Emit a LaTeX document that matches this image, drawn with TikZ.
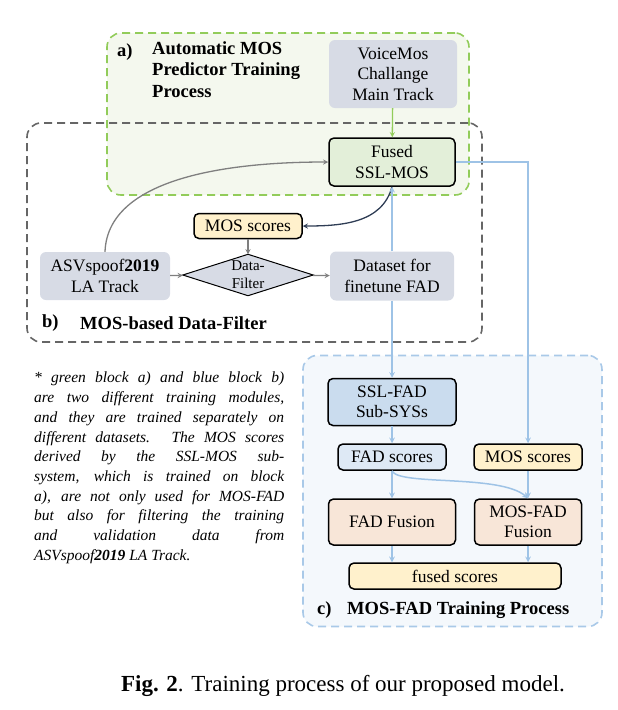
\documentclass[tikz,border=0pt]{standalone}
\usepackage{fontspec}
\setmainfont{Liberation Serif}
\usetikzlibrary{positioning}

\definecolor{regiongreen}{HTML}{92CC5A}
\definecolor{regiongreenfill}{HTML}{F4F8EE}
\definecolor{regionblue}{HTML}{A9C9E8}
\definecolor{regionbluefill}{HTML}{F4F8FC}
\definecolor{datagray}{HTML}{D7DBE5}
\definecolor{fusedgreen}{HTML}{E3EFD9}
\definecolor{scoreyellow}{HTML}{FFF1CC}
\definecolor{fadblue}{HTML}{CADCEE}
\definecolor{fadlight}{HTML}{DEE9F5}
\definecolor{fusionpeach}{HTML}{F8E6D8}
\definecolor{linkblue}{HTML}{9EC3E6}
\definecolor{linkgray}{HTML}{7F7F7F}
\definecolor{linknavy}{HTML}{2F3D55}

\begin{document}
\begin{tikzpicture}[
      x=1pt, y=-1pt,
      font=\fontsize{17.5}{20.5}\selectfont,
      region/.style={draw, dashed, dash pattern=on 8pt off 5pt, line width=1.6pt,
                     rounded corners=14pt},
      data/.style={fill=datagray, rounded corners=6pt, align=center, inner sep=0pt},
      box/.style={draw=black, line width=1.5pt, rounded corners=5pt, align=center,
                  inner sep=0pt},
      title/.style={font=\fontsize{18.5}{21.5}\selectfont\bfseries, align=left,
                    inner sep=0pt},
      flow/.style={draw=linkgray, ->, >=stealth, line width=1.3pt},
      blueflow/.style={draw=linkblue, ->, >=stealth, line width=1.5pt}
    ]
    \useasboundingbox (0,0) rectangle (618,710);

    % Regions a), b), c).
    \node[region, draw=regiongreen, fill=regiongreenfill, minimum width=362pt,
          minimum height=162pt] (blocka) at (288,114) {};
    \node[region, draw=black!60, minimum width=455pt, minimum height=219pt]
          (blockb) at (254.5,232.5) {};
    \node[region, draw=regionblue, fill=regionbluefill, minimum width=299pt,
          minimum height=271pt] (blockc) at (452.5,491) {};

    % a) Automatic MOS predictor training.
    \node[title, anchor=west] (taga) at (117,52) {a)};
    \node[title, anchor=north west] (titlea) at (152,41)
      {Automatic MOS\\Predictor Training\\Process};
    \node[data, minimum width=128pt, minimum height=68pt] (voicemos) at (393,74)
      {VoiceMos\\Challange\\Main Track};
    \node[box, fill=fusedgreen, minimum width=126pt, minimum height=48pt]
      (fused) at (392,162) {Fused\\SSL-MOS};
    \draw[draw=regiongreen, ->, >=stealth, line width=1.3pt] (voicemos) -- (fused);

    % b) MOS-based data filter.
    \node[box, fill=scoreyellow, minimum width=108pt, minimum height=25pt]
      (mosa) at (248,226) {MOS scores};
    \node[data, minimum width=130pt, minimum height=48pt] (asv) at (105,276)
      {ASVspoof\textbf{2019}\\LA Track};
    \node[minimum width=130pt, minimum height=41pt, inner sep=0pt, align=center,
          font=\fontsize{15}{18}\selectfont] (filter) at (248,275) {Data-\\Filter};
    \draw[fill=datagray, line width=1pt] (filter.west) -- (filter.north)
      -- (filter.east) -- (filter.south) -- cycle;
    \node[minimum width=130pt, minimum height=41pt, inner sep=0pt, align=center,
          font=\fontsize{15}{18}\selectfont] at (filter) {Data-\\Filter};
    \node[data, minimum width=124pt, minimum height=49pt] (dataset) at (392,276)
      {Dataset for\\finetune FAD};
    \node[title, anchor=west] (tagb) at (42,323) {b)};
    \node[title, anchor=west] (titleb) at (80,323) {MOS-based Data-Filter};
    \draw[flow] (asv) -- (filter);
    \draw[flow] (filter) -- (dataset);
    \draw[flow] (mosa) -- (filter);
    \draw[flow] (asv.north) to[out=88, in=180, looseness=0.85] (fused.west);
    \draw[draw=linknavy, ->, >=stealth, line width=1.3pt]
      (fused.south) to[out=-105, in=0] (mosa.east);

    % c) MOS-FAD training.
    \node[box, fill=fadblue, minimum width=128pt, minimum height=47pt]
      (sslfad) at (392,402) {SSL-FAD\\Sub-SYSs};
    \node[box, fill=fadlight, minimum width=108pt, minimum height=26pt]
      (fadscores) at (392,457) {FAD scores};
    \node[box, fill=scoreyellow, minimum width=108pt, minimum height=26pt]
      (mosc) at (528,457) {MOS scores};
    \node[box, fill=fusionpeach, minimum width=127pt, minimum height=46pt]
      (fadfusion) at (392,522) {FAD Fusion};
    \node[box, fill=fusionpeach, minimum width=107pt, minimum height=46pt]
      (mosfusion) at (528,522) {MOS-FAD\\Fusion};
    \node[box, fill=scoreyellow, minimum width=212pt, minimum height=26pt]
      (fusedscores) at (455,576) {fused scores};
    \node[title, anchor=west] (tagc) at (317,610) {c)};
    \node[title, anchor=west] (titlec) at (347,610) {MOS-FAD Training Process};
    \draw[blueflow] (dataset.north) -- (fused.south);
    \draw[blueflow] (dataset.south) -- (sslfad.north);
    \draw[blueflow] (fused.east) -| (mosc.north);
    \draw[blueflow] (sslfad) -- (fadscores);
    \draw[blueflow] (fadscores) -- (fadfusion);
    \draw[blueflow] (fadscores.south) .. controls (398,486) and (500,474) .. (mosfusion.north);
    \draw[blueflow] (mosc) -- (mosfusion);
    \draw[blueflow] (fadfusion.south) -- (fadfusion.south |- fusedscores.north);
    \draw[blueflow] (mosfusion.south) -- (mosfusion.south |- fusedscores.north);

    % Side note and caption.
    \node[anchor=north west, text width=250pt, align=justify, inner sep=0pt,
          font=\fontsize{15.5}{19.7}\selectfont\itshape] (note) at (34,372)
      {* green block a) and blue block b)\linebreak
       are two different training modules,\linebreak
       and they are trained separately on\linebreak
       different datasets. The MOS scores\linebreak
       derived by the SSL-MOS sub-\linebreak
       system, which is trained on block\linebreak
       a), are not only used for MOS-FAD\linebreak
       but also for filtering the training\linebreak
       and validation data from\linebreak
       ASVspoof\textbf{2019} LA Track.};
    \node[font=\fontsize{23}{27}\selectfont] (caption) at (343,686)
      {\textbf{Fig. 2}. Training process of our proposed model.};
  \end{tikzpicture}
\end{document}
